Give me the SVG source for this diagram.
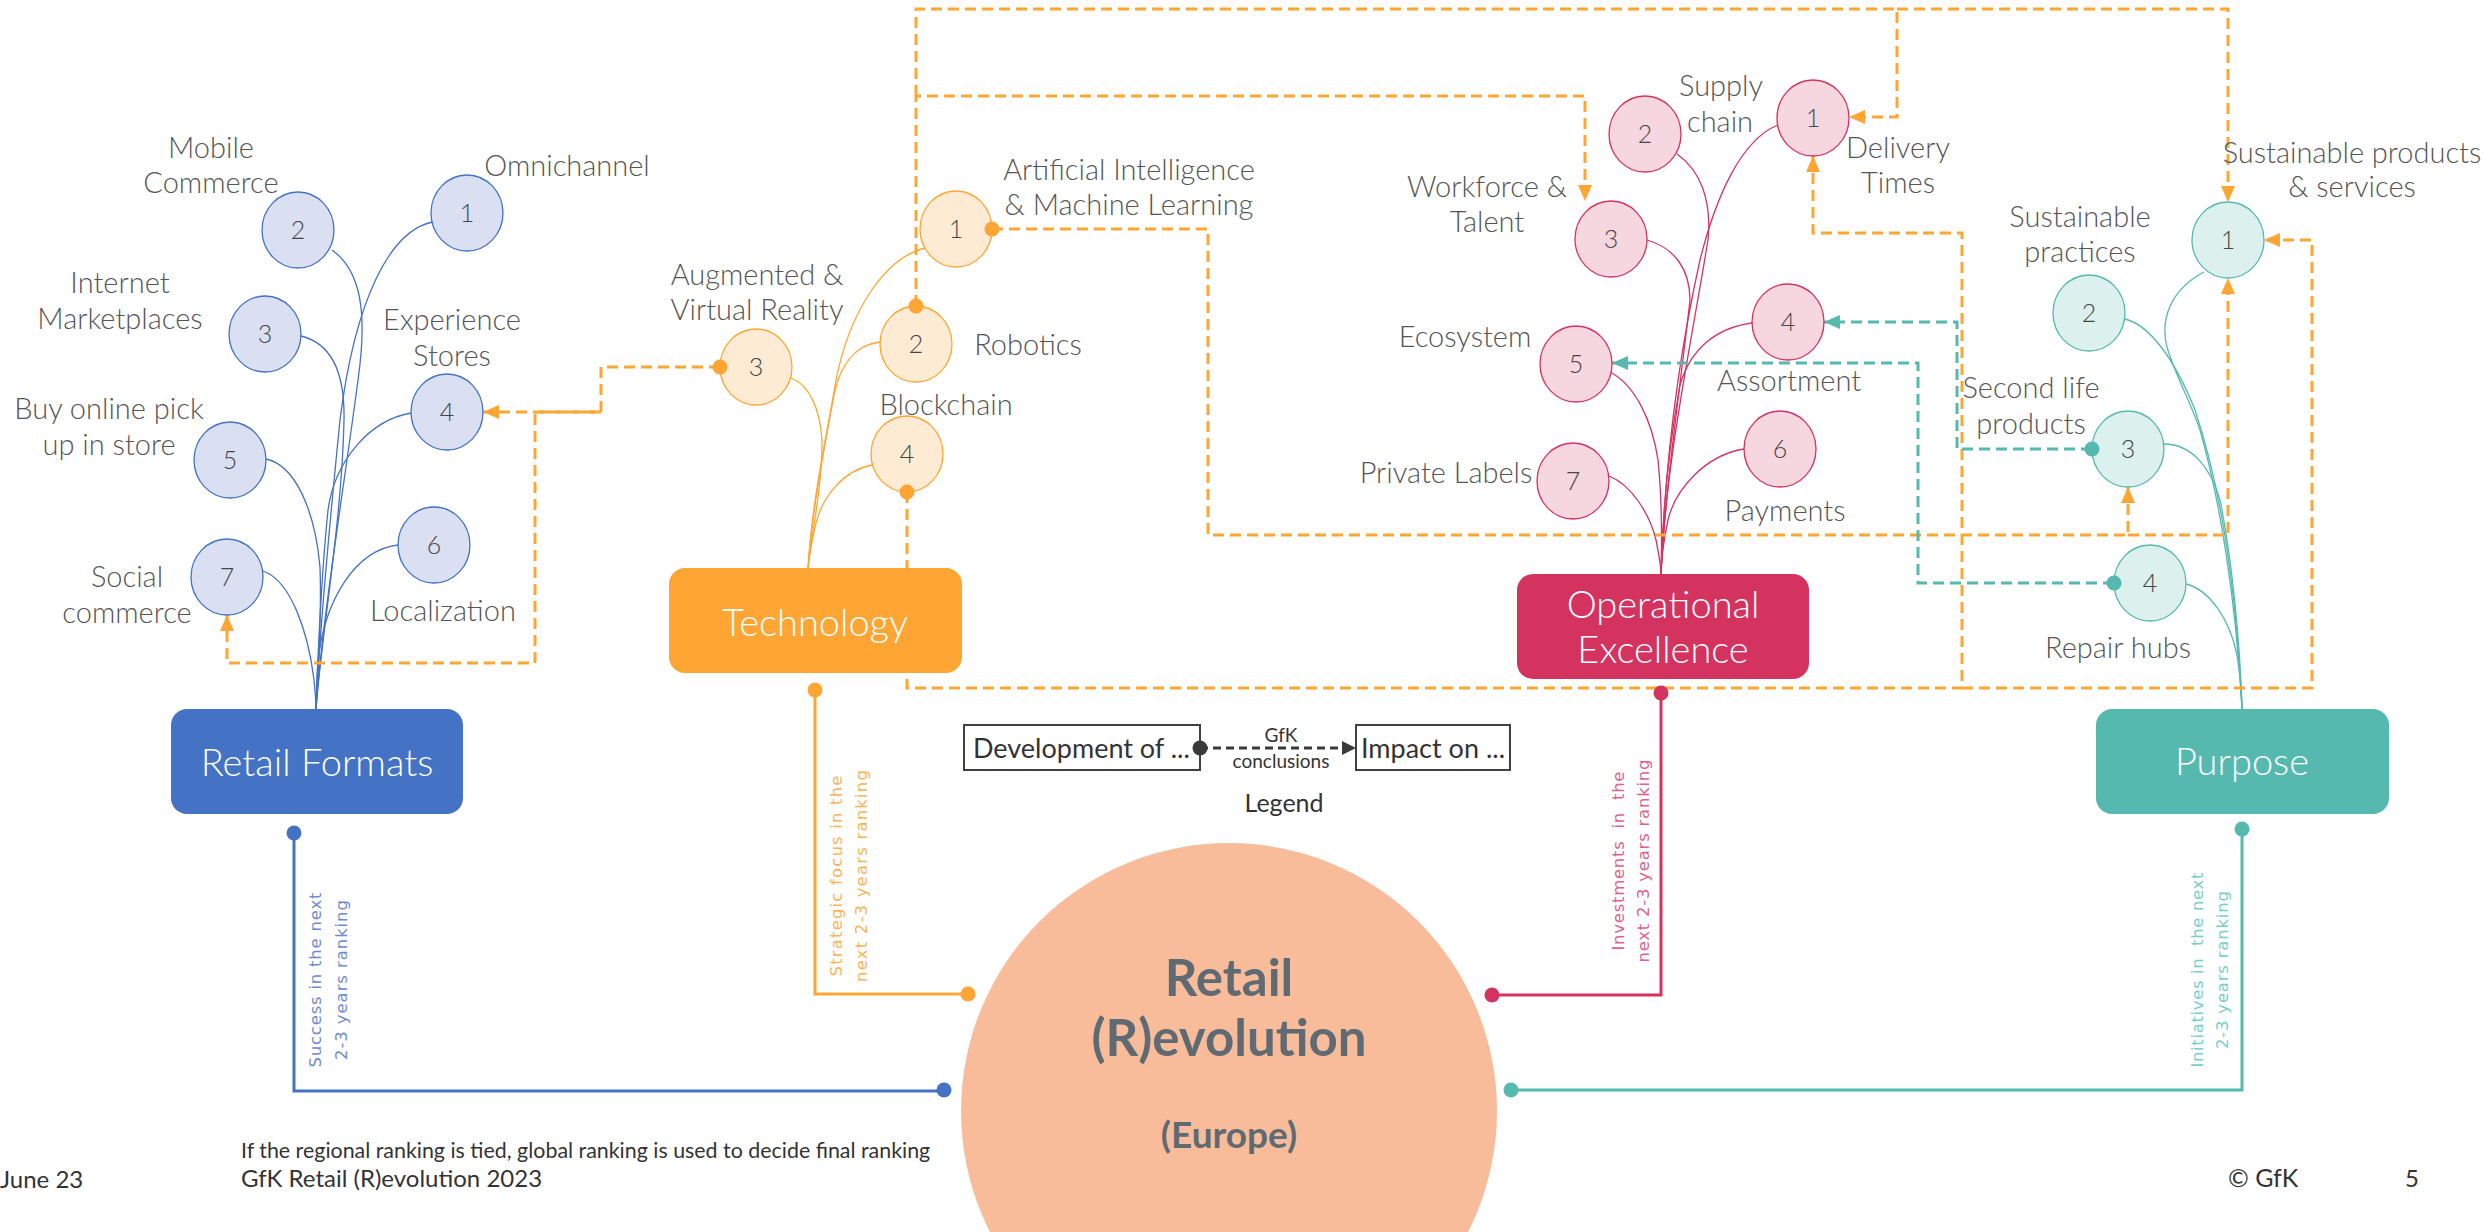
<svg xmlns="http://www.w3.org/2000/svg" width="2483" height="1232" viewBox="0 0 2483 1232">
<style>
.lbl{font-family:Lato,'Liberation Sans',sans-serif;font-weight:300;font-size:29px;fill:#555555;text-anchor:middle}
.num{font-family:Lato,'Liberation Sans',sans-serif;font-weight:300;font-size:25px;fill:#454545;text-anchor:middle}
.box{font-family:Lato,'Liberation Sans',sans-serif;font-weight:300;font-size:38px;fill:#ffffff;text-anchor:middle}
.cb{fill:#dae0f2;stroke:#4472c4;stroke-width:1.3}
.co{fill:#feebd4;stroke:#ffa533;stroke-width:1.3}
.cp{fill:#f6d6df;stroke:#d4335f;stroke-width:1.3}
.ct{fill:#dcf0ed;stroke:#56b9b0;stroke-width:1.3}
.br{fill:none;stroke-width:1.3}
.dso{fill:none;stroke:#ffa533;stroke-width:3;stroke-dasharray:11 6}
.dst{fill:none;stroke:#56b9b0;stroke-width:3;stroke-dasharray:11 6}
.sol{fill:none;stroke-width:3}
.vt{font-family:'DejaVu Sans',sans-serif;font-size:16.5px;text-anchor:middle;white-space:pre}
.foot{font-family:Lato,'Liberation Sans',sans-serif;fill:#333333}
.leg{font-family:Lato,'Liberation Sans',sans-serif;fill:#333333}
.big{font-family:Lato,'Liberation Sans',sans-serif;font-weight:700;fill:#5f6a72;text-anchor:middle}
</style>
<defs>
<marker id="ao" markerWidth="16" markerHeight="14" refX="16" refY="7" orient="auto" markerUnits="userSpaceOnUse"><path d="M0,0 L16,7 L0,14 z" fill="#ffa533"/></marker>
<marker id="at" markerWidth="16" markerHeight="14" refX="16" refY="7" orient="auto" markerUnits="userSpaceOnUse"><path d="M0,0 L16,7 L0,14 z" fill="#56b9b0"/></marker>
<marker id="ak" markerWidth="14" markerHeight="14" refX="14" refY="7" orient="auto" markerUnits="userSpaceOnUse"><path d="M0,0 L14,7 L0,14 z" fill="#3a3a3a"/></marker>
</defs>
<rect width="2483" height="1232" fill="#ffffff"/>

<!-- central circle -->
<g id="retail-revolution">
<circle cx="1229" cy="1111" r="268" fill="#f9bc9b"/>
<text class="big" x="1229" y="996" font-size="51">Retail</text>
<text class="big" x="1229" y="1056" font-size="51">(R)evolution</text>
<text class="big" x="1229" y="1148" font-size="37">(Europe)</text>
</g>

<!-- tree branches -->
<g id="branches">
<g stroke="#4472c4" class="br">
<path class="br" d="M433,222 C390,230 355,300 340,420 C332,500 320,620 316,709"/>
<path class="br" d="M332,250 C360,270 368,310 358,380 C345,480 322,620 316,709"/>
<path class="br" d="M301,336 C330,343 345,370 344,420 C342,520 322,630 316,709"/>
<path class="br" d="M411,413 C370,420 335,460 328,510 C322,570 318,650 316,709"/>
<path class="br" d="M266,459 C295,465 315,510 320,567 C322,620 318,670 316,709"/>
<path class="br" d="M398,545 C355,550 325,600 318,660 C317,680 316,695 316,709"/>
<path class="br" d="M263,571 C290,580 308,630 314,680 C315,690 316,700 316,709"/>
</g>
<g stroke="#ffa533" class="br">
<path class="br" d="M925,248 C885,258 850,310 836,380 C826,440 812,500 808,569"/>
<path class="br" d="M880,342 C855,345 840,365 834,395 C824,450 812,510 808,569"/>
<path class="br" d="M791,378 C810,385 820,410 822,440 C822,490 812,530 808,569"/>
<path class="br" d="M872,465 C845,470 822,495 815,527 C811,545 809,555 808,569"/>
</g>
<g stroke="#d4335f" class="br">
<path class="br" d="M1778,125 C1740,140 1715,200 1700,260 C1680,350 1665,460 1661,574"/>
<path class="br" d="M1677,154 C1700,170 1712,200 1708,240 C1690,350 1666,460 1661,574"/>
<path class="br" d="M1647,240 C1675,248 1690,270 1690,300 C1680,390 1666,480 1661,574"/>
<path class="br" d="M1752,323 C1715,328 1690,350 1680,385 C1670,440 1663,500 1661,574"/>
<path class="br" d="M1610,372 C1635,385 1652,420 1658,460 C1662,500 1662,540 1661,574"/>
<path class="br" d="M1744,449 C1705,455 1675,490 1668,520 C1663,545 1661,560 1661,574"/>
<path class="br" d="M1609,476 C1632,485 1650,515 1656,540 C1659,555 1661,565 1661,574"/>
</g>
<g stroke="#56b9b0" class="br">
<path class="br" d="M2204,272 C2170,290 2160,320 2167,347 C2175,375 2190,400 2200,430 C2220,500 2236,600 2242,709"/>
<path class="br" d="M2125,319 C2150,325 2175,360 2195,410 C2215,470 2235,560 2242,709"/>
<path class="br" d="M2164,444 C2190,444 2210,465 2220,500 C2232,560 2240,640 2242,709"/>
<path class="br" d="M2186,584 C2210,590 2230,620 2237,655 C2240,675 2242,695 2242,709"/>
</g>
</g>

<!-- connectors -->
<g id="connectors">
<path class="dso" d="M720,367 H601 V412 H483" marker-end="url(#ao)"/>
<path class="dso" d="M601,412 H535 V663 H227 V615" marker-end="url(#ao)"/>
<path class="dso" d="M992,229 H1208 V535 H2128 V487" marker-end="url(#ao)"/>
<path class="dso" d="M2128,535 H2228 V278" marker-end="url(#ao)"/>
<path class="dso" d="M916,306 V96 H1585 V201" marker-end="url(#ao)"/>
<path class="dso" d="M916,96 V9 H1897 V117 H1849" marker-end="url(#ao)"/>
<path class="dso" d="M1897,9 H2228 V202" marker-end="url(#ao)"/>
<path class="dso" d="M907,492 V688 H1962 V233 H1813 V156" marker-end="url(#ao)"/>
<path class="dso" d="M1962,688 H2312 V240 H2264" marker-end="url(#ao)"/>
<path class="dst" d="M2092,449 H1957 V322 H1824" marker-end="url(#at)"/>
<path class="dst" d="M2114,583 H1918 V363 H1612" marker-end="url(#at)"/>
<path class="sol" stroke="#4472c4" d="M294,833 V1091 H944"/>
<circle cx="294" cy="833" r="7.5" fill="#4472c4"/>
<circle cx="944" cy="1090" r="7.5" fill="#4472c4"/>
<path class="sol" stroke="#ffa533" d="M815,690 V994 H968"/>
<circle cx="815" cy="690" r="7.5" fill="#ffa533"/>
<circle cx="968" cy="994" r="7.5" fill="#ffa533"/>
<path class="sol" stroke="#d4335f" d="M1661,693 V995 H1492"/>
<circle cx="1661" cy="693" r="7.5" fill="#d4335f"/>
<circle cx="1492" cy="995" r="7.5" fill="#d4335f"/>
<path class="sol" stroke="#56b9b0" d="M2242,829 V1090 H1511"/>
<circle cx="2242" cy="829" r="7.5" fill="#56b9b0"/>
<circle cx="1511" cy="1090" r="7.5" fill="#56b9b0"/>
</g>

<!-- vertical connector labels -->
<g id="edge-labels">
<g transform="translate(321,980) rotate(-90)" fill="#6e8cd0"><text class="vt" x="0" y="0" textLength="175">Success in the next</text><text class="vt" x="0" y="26" textLength="160">2-3 years ranking</text></g>
<g transform="translate(842,876) rotate(-90)" fill="#fbb35a"><text class="vt" x="0" y="0" textLength="201">Strategic focus in the</text><text class="vt" x="0" y="25" textLength="212">next 2-3 years ranking</text></g>
<g transform="translate(1624,861) rotate(-90)" fill="#e0628a"><text class="vt" x="0" y="0" textLength="179">Investments  in  the</text><text class="vt" x="0" y="25" textLength="203">next 2-3 years ranking</text></g>
<g transform="translate(2203,970) rotate(-90)" fill="#78cfc6"><text class="vt" x="0" y="0" textLength="195">Initiatives in  the next</text><text class="vt" x="0" y="25" textLength="158">2-3 years ranking</text></g>
</g>

<!-- Retail Formats -->
<g id="retail-formats">
<rect x="171" y="709" width="292" height="105" rx="16" fill="#4472c4"/>
<text class="box" x="317" y="776">Retail Formats</text>
</g>
<g id="rf-1"><ellipse class="cb" cx="467" cy="213" rx="36" ry="38"/><text class="num" x="467" y="222">1</text><text class="lbl" x="567" y="176">Omnichannel</text></g>
<g id="rf-2"><ellipse class="cb" cx="298" cy="230" rx="36" ry="38"/><text class="num" x="298" y="239">2</text><text class="lbl" x="211" y="158">Mobile</text><text class="lbl" x="211" y="193">Commerce</text></g>
<g id="rf-3"><ellipse class="cb" cx="265" cy="334" rx="36" ry="38"/><text class="num" x="265" y="343">3</text><text class="lbl" x="120" y="293">Internet</text><text class="lbl" x="120" y="329">Marketplaces</text></g>
<g id="rf-4"><ellipse class="cb" cx="447" cy="412" rx="36" ry="38"/><text class="num" x="447" y="421">4</text><text class="lbl" x="452" y="330">Experience</text><text class="lbl" x="452" y="366">Stores</text></g>
<g id="rf-5"><ellipse class="cb" cx="230" cy="460" rx="36" ry="38"/><text class="num" x="230" y="469">5</text><text class="lbl" x="109" y="419">Buy online pick</text><text class="lbl" x="109" y="455">up in store</text></g>
<g id="rf-6"><ellipse class="cb" cx="434" cy="545" rx="36" ry="38"/><text class="num" x="434" y="554">6</text><text class="lbl" x="443" y="621">Localization</text></g>
<g id="rf-7"><ellipse class="cb" cx="227" cy="577" rx="36" ry="38"/><text class="num" x="227" y="586">7</text><text class="lbl" x="127" y="587">Social</text><text class="lbl" x="127" y="623">commerce</text></g>

<!-- Technology -->
<g id="technology">
<rect x="669" y="568" width="293" height="105" rx="16" fill="#ffa533"/>
<text class="box" x="815" y="636">Technology</text>
</g>
<g id="tech-1"><ellipse class="co" cx="956" cy="229" rx="36" ry="38"/><circle cx="992" cy="229" r="7.5" fill="#ffa533"/><text class="num" x="956" y="238">1</text><text class="lbl" x="1129" y="180">Artificial Intelligence</text><text class="lbl" x="1129" y="215">&amp; Machine Learning</text></g>
<g id="tech-2"><ellipse class="co" cx="916" cy="344" rx="36" ry="38"/><circle cx="916" cy="306" r="7.5" fill="#ffa533"/><text class="num" x="916" y="353">2</text><text class="lbl" x="1028" y="355">Robotics</text></g>
<g id="tech-3"><ellipse class="co" cx="756" cy="367" rx="36" ry="38"/><circle cx="720" cy="367" r="7.5" fill="#ffa533"/><text class="num" x="756" y="376">3</text><text class="lbl" x="757" y="285">Augmented &amp;</text><text class="lbl" x="757" y="320">Virtual Reality</text></g>
<g id="tech-4"><ellipse class="co" cx="907" cy="454" rx="36" ry="38"/><circle cx="907" cy="492" r="7.5" fill="#ffa533"/><text class="num" x="907" y="463">4</text><text class="lbl" x="946" y="415">Blockchain</text></g>

<!-- Operational Excellence -->
<g id="operational-excellence">
<rect x="1517" y="574" width="292" height="105" rx="16" fill="#d4335f"/>
<text class="box" x="1663" y="618">Operational</text>
<text class="box" x="1663" y="663">Excellence</text>
</g>
<g id="ops-1"><ellipse class="cp" cx="1813" cy="118" rx="36" ry="38"/><text class="num" x="1813" y="127">1</text><text class="lbl" x="1898" y="158">Delivery</text><text class="lbl" x="1898" y="193">Times</text></g>
<g id="ops-2"><ellipse class="cp" cx="1645" cy="134" rx="36" ry="38"/><text class="num" x="1645" y="143">2</text><text class="lbl" x="1721" y="96">Supply</text><text class="lbl" x="1720" y="132">chain</text></g>
<g id="ops-3"><ellipse class="cp" cx="1611" cy="239" rx="36" ry="38"/><text class="num" x="1611" y="248">3</text><text class="lbl" x="1487" y="197">Workforce &amp;</text><text class="lbl" x="1487" y="232">Talent</text></g>
<g id="ops-4"><ellipse class="cp" cx="1788" cy="322" rx="36" ry="38"/><text class="num" x="1788" y="331">4</text><text class="lbl" x="1789" y="391">Assortment</text></g>
<g id="ops-5"><ellipse class="cp" cx="1576" cy="364" rx="36" ry="38"/><text class="num" x="1576" y="373">5</text><text class="lbl" x="1465" y="347">Ecosystem</text></g>
<g id="ops-6"><ellipse class="cp" cx="1780" cy="449" rx="36" ry="38"/><text class="num" x="1780" y="458">6</text><text class="lbl" x="1785" y="521">Payments</text></g>
<g id="ops-7"><ellipse class="cp" cx="1573" cy="481" rx="36" ry="38"/><text class="num" x="1573" y="490">7</text><text class="lbl" x="1446" y="483">Private Labels</text></g>

<!-- Purpose -->
<g id="purpose">
<rect x="2096" y="709" width="293" height="105" rx="16" fill="#56b9b0"/>
<text class="box" x="2242" y="775">Purpose</text>
</g>
<g id="pur-1"><ellipse class="ct" cx="2228" cy="240" rx="36" ry="38"/><text class="num" x="2228" y="249">1</text><text class="lbl" x="2352" y="163">Sustainable products</text><text class="lbl" x="2352" y="197">&amp; services</text></g>
<g id="pur-2"><ellipse class="ct" cx="2089" cy="313" rx="36" ry="38"/><text class="num" x="2089" y="322">2</text><text class="lbl" x="2080" y="227">Sustainable</text><text class="lbl" x="2080" y="262">practices</text></g>
<g id="pur-3"><ellipse class="ct" cx="2128" cy="449" rx="36" ry="38"/><circle cx="2092" cy="449" r="7.5" fill="#56b9b0"/><text class="num" x="2128" y="458">3</text><text class="lbl" x="2031" y="398">Second life</text><text class="lbl" x="2031" y="434">products</text></g>
<g id="pur-4"><ellipse class="ct" cx="2150" cy="583" rx="36" ry="38"/><circle cx="2114" cy="583" r="7.5" fill="#56b9b0"/><text class="num" x="2150" y="592">4</text><text class="lbl" x="2118" y="658">Repair hubs</text></g>

<!-- Legend -->
<g id="legend">
<rect x="964" y="725" width="236" height="45" fill="#ffffff" stroke="#404040" stroke-width="2"/>
<text class="leg" x="973" y="758" font-size="27">Development of ...</text>
<rect x="1356" y="725" width="154" height="45" fill="#ffffff" stroke="#404040" stroke-width="2"/>
<text class="leg" x="1361" y="758" font-size="27">Impact on ...</text>
<path d="M1200,748 H1356" fill="none" stroke="#3a3a3a" stroke-width="3" stroke-dasharray="8 5" marker-end="url(#ak)"/>
<circle cx="1200" cy="748" r="7.5" fill="#3a3a3a"/>
<text class="leg" x="1281" y="742" font-size="19" text-anchor="middle">GfK</text>
<text class="leg" x="1281" y="768" font-size="19" text-anchor="middle">conclusions</text>
<text class="leg" x="1284" y="812" font-size="25" text-anchor="middle">Legend</text>
</g>

<!-- footer -->
<g id="footer">
<text class="foot" x="0" y="1188" font-size="24">June 23</text>
<text class="foot" x="241" y="1158" font-size="21.4">If the regional ranking is tied, global ranking is used to decide final ranking</text>
<text class="foot" x="241" y="1187" font-size="24">GfK Retail (R)evolution 2023</text>
<text class="foot" x="2228" y="1187" font-size="25">© GfK</text>
<text class="foot" x="2405" y="1187" font-size="24">5</text>
</g>
</svg>
